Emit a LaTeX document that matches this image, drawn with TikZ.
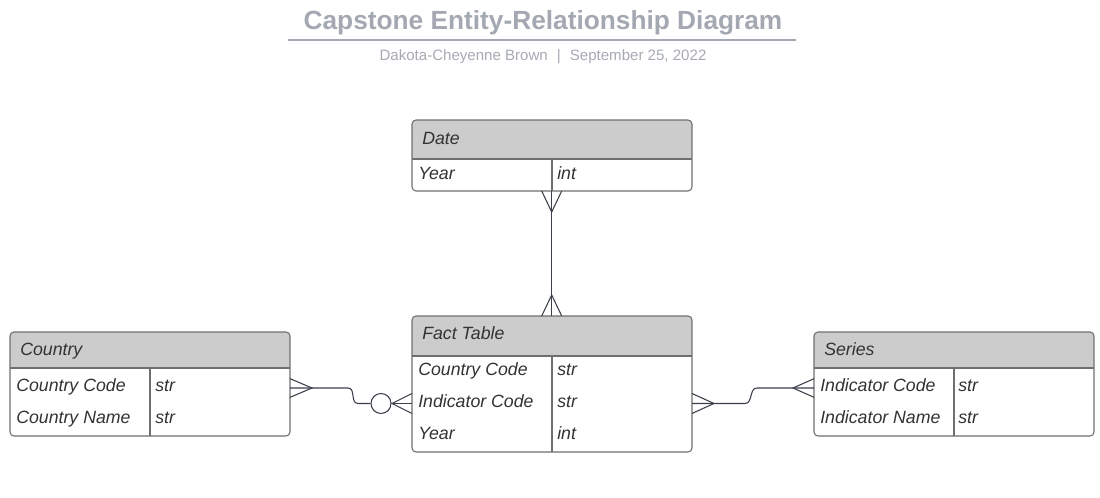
\documentclass[tikz,border=0pt]{standalone}
\usepackage{fontspec}
\setmainfont{Liberation Sans}
\definecolor{titlegray}{HTML}{A3A8B2}
\definecolor{subgray}{HTML}{A6AAB2}
\definecolor{headfill}{HTML}{CCCCCC}
\definecolor{bordergray}{HTML}{6F6F6F}
\definecolor{linecol}{HTML}{3A3F4A}
\definecolor{txt}{HTML}{333333}
\tikzset{
  fld/.style={anchor=base west, inner sep=0pt, text=txt, font=\fontsize{13.3}{15}\selectfont\itshape},
  border/.style={draw=bordergray, line width=0.8pt, rounded corners=3pt},
  conn/.style={draw=linecol, line width=0.8pt},
}
\newcommand{\entbox}[5]{% x1 y1 x2 yhead y2
  \begin{scope}
    \clip[rounded corners=3pt] (#1,#2) rectangle (#3,#5);
    \fill[white] (#1,#2) rectangle (#3,#5);
    \fill[headfill] (#1,#2) rectangle (#3,#4);
  \end{scope}
  \draw[bordergray, line width=0.8pt] (#1,#4) -- (#3,#4);
  \draw[border] (#1,#2) rectangle (#3,#5);
}
\begin{document}
\begin{tikzpicture}[x=0.75pt, y=-0.75pt]
\useasboundingbox (0,0) rectangle (1100,498);

% Title
\node[anchor=base, inner sep=0pt, text=titlegray, font=\fontsize{19.7}{22}\selectfont\bfseries] (title) at (543,29.5) {Capstone Entity-Relationship Diagram};
\draw[titlegray, line width=1.5pt] (288,40) -- (796,40);
\node[anchor=base, inner sep=0pt, text=subgray, font=\fontsize{11.3}{13}\selectfont] (subtitle) at (543,60.5) {Dakota-Cheyenne Brown\hspace{0.6em}|\hspace{0.6em}September 25, 2022};

% Date
\entbox{412}{120}{692}{159}{191}
\draw[bordergray, line width=0.8pt] (552,159) -- (552,191);
\node[fld] (dateh) at (422,145) {Date};
\node[fld] (d1) at (418,180) {Year};
\node[fld] (d1t) at (557,180) {int};

% Fact Table
\entbox{412}{316}{692}{356}{452}
\draw[bordergray, line width=0.8pt] (552,356) -- (552,452);
\node[fld] (facth) at (422,340) {Fact Table};
\node[fld] (f1) at (418,376) {Country Code};
\node[fld] (f1t) at (557,376) {str};
\node[fld] (f2) at (418,408) {Indicator Code};
\node[fld] (f2t) at (557,408) {str};
\node[fld] (f3) at (418,440) {Year};
\node[fld] (f3t) at (557,440) {int};

% Country
\entbox{10}{332}{290}{368}{436}
\draw[bordergray, line width=0.8pt] (150,368) -- (150,436);
\node[fld] (cth) at (20,356) {Country};
\node[fld] (c1) at (16,392) {Country Code};
\node[fld] (c1t) at (155,392) {str};
\node[fld] (c2) at (16,424) {Country Name};
\node[fld] (c2t) at (155,424) {str};

% Series
\entbox{814}{332}{1094}{368}{436}
\draw[bordergray, line width=0.8pt] (954,368) -- (954,436);
\node[fld] (srh) at (824,356) {Series};
\node[fld] (s1) at (820,392) {Indicator Code};
\node[fld] (s1t) at (958,392) {str};
\node[fld] (s2) at (820,424) {Indicator Name};
\node[fld] (s2t) at (958,424) {str};

% connector coordinates
\coordinate (dateB) at (551.7,191);
\coordinate (factT) at (551.7,316);
\coordinate (ctyR) at (290,388);
\coordinate (factL) at (412,403.5);
\coordinate (factR) at (692,403.5);
\coordinate (serL) at (814,388);
\node[circle, draw=linecol, line width=0.8pt, minimum size=15pt, inner sep=0pt, fill=white] (zero) at (381,403.5) {};

% Date -- Fact
\draw[conn] (dateB) -- (factT);
\draw[conn] ([xshift=-7.5pt]dateB) -- ([yshift=-15.75pt]dateB) -- ([xshift=7.5pt]dateB);
\draw[conn] ([xshift=-7.5pt]factT) -- ([yshift=15.75pt]factT) -- ([xshift=7.5pt]factT);

% Country -- Fact
\draw[conn] (ctyR) -- ++(22,0) coordinate (c1p) -- (348,388) .. controls (356,388) and (350,403.5) .. (358,403.5) -- (zero.west);
\draw[conn] ([yshift=7pt]ctyR) -- (c1p) -- ([yshift=-7pt]ctyR);
\draw[conn] (zero.east) -- (factL);
\draw[conn] ([yshift=7.5pt]factL) -- ([xshift=-15pt]factL) -- ([yshift=-7.5pt]factL);

% Series -- Fact
\draw[conn] (factR) -- ++(22,0) coordinate (f1p) -- (745,403.5) .. controls (753,403.5) and (749,388) .. (757,388) -- ++(36,0) coordinate (s1p) -- (serL);
\draw[conn] ([yshift=7.5pt]factR) -- (f1p) -- ([yshift=-7.5pt]factR);
\draw[conn] ([yshift=7pt]serL) -- (s1p) -- ([yshift=-7pt]serL);
\end{tikzpicture}
\end{document}
